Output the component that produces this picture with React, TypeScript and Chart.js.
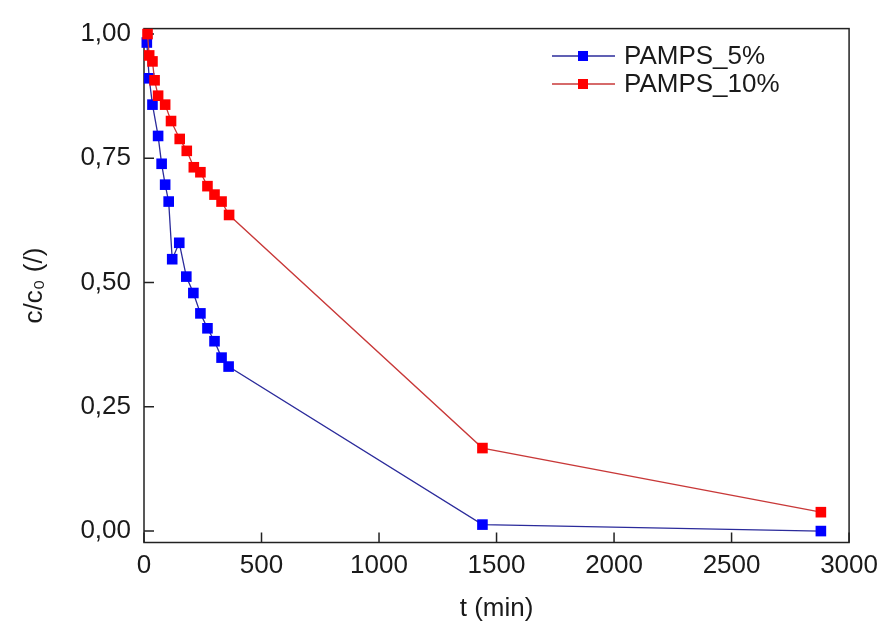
import React, { useEffect, useRef } from 'react';
import { Chart, registerables } from 'chart.js';

Chart.register(...registerables);

// ---- data ----
const seriesNames = ['PAMPS_5%', 'PAMPS_10%'];

const timesPamps5 = [12, 22, 36, 60, 75, 90, 105, 120, 150, 180, 210, 240, 270, 300, 330, 360, 1440, 2880];
const valuesPamps5 = [0.983, 0.911, 0.858, 0.795, 0.739, 0.697, 0.663, 0.547, 0.58, 0.512, 0.479, 0.438, 0.408, 0.382, 0.349, 0.331, 0.013, 0.0];

const timesPamps10 = [15, 22, 36, 45, 60, 90, 115, 152, 182, 212, 240, 270, 300, 330, 362, 1440, 2880];
const valuesPamps10 = [1.0, 0.957, 0.945, 0.907, 0.876, 0.858, 0.825, 0.789, 0.765, 0.732, 0.722, 0.694, 0.677, 0.663, 0.636, 0.167, 0.038];

const xTickLabels = ['0', '500', '1000', '1500', '2000', '2500', '3000'];
const yTickLabels = ['0,00', '0,25', '0,50', '0,75', '1,00'];

const FONT = '"Liberation Sans", Arial, sans-serif';

const framePlugin = {
  id: 'frame',
  beforeDatasetsDraw(chart: any) {
    const { ctx, chartArea, scales } = chart;
    const { left, right, top, bottom } = chartArea;
    ctx.save();
    ctx.strokeStyle = '#222';
    ctx.lineWidth = 1.5;
    ctx.strokeRect(left, top, right - left, bottom - top);
    ctx.beginPath();
    scales.x.ticks.forEach((t: any) => {
      const px = scales.x.getPixelForValue(t.value);
      ctx.moveTo(px, bottom);
      ctx.lineTo(px, bottom - 10);
    });
    scales.y.ticks.forEach((t: any) => {
      const py = scales.y.getPixelForValue(t.value);
      ctx.moveTo(left, py);
      ctx.lineTo(left + 10, py);
    });
    ctx.stroke();
    ctx.restore();
  },
};

const legendPlugin = {
  id: 'customLegend',
  afterDraw(chart: any) {
    const { ctx } = chart;
    const rowsY = [56, 84];
    ctx.save();
    chart.data.datasets.forEach((ds: any, i: number) => {
      const y = rowsY[i];
      ctx.strokeStyle = ds.borderColor;
      ctx.lineWidth = 1.5;
      ctx.beginPath();
      ctx.moveTo(552, y);
      ctx.lineTo(615, y);
      ctx.stroke();
      ctx.fillStyle = ds.pointBackgroundColor;
      ctx.fillRect(583 - 5, y - 5, 10, 10);
      ctx.fillStyle = '#1a1a1a';
      ctx.font = `26px ${FONT}`;
      ctx.textAlign = 'left';
      ctx.textBaseline = 'middle';
      ctx.fillText(ds.label, 624, y + 1);
    });
    ctx.restore();
  },
};

export default function App() {
  const canvasRef = useRef<HTMLCanvasElement | null>(null);

  useEffect(() => {
    const canvas = canvasRef.current;
    if (!canvas) return;
    const chart = new Chart(canvas, {
      type: 'scatter',
      data: {
        datasets: [
          {
            label: seriesNames[0],
            data: timesPamps5.map((t, i) => ({ x: t, y: valuesPamps5[i] })),
            showLine: true,
            order: 2,
            borderColor: '#2b2b9b',
            borderWidth: 1.3,
            pointStyle: 'rect',
            pointRadius: 7.5,
            pointBackgroundColor: '#0000ff',
            pointBorderColor: '#0000ff',
            pointBorderWidth: 0,
            clip: false,
          } as any,
          {
            label: seriesNames[1],
            data: timesPamps10.map((t, i) => ({ x: t, y: valuesPamps10[i] })),
            showLine: true,
            order: 1,
            borderColor: '#c83838',
            borderWidth: 1.3,
            pointStyle: 'rect',
            pointRadius: 7.5,
            pointBackgroundColor: '#ff0000',
            pointBorderColor: '#ff0000',
            pointBorderWidth: 0,
            clip: false,
          } as any,
        ],
      },
      options: {
        animation: false,
        responsive: false,
        devicePixelRatio: 1,
        layout: { padding: { top: 21, right: 33, bottom: 0, left: 0 } },
        plugins: {
          legend: { display: false },
          tooltip: { enabled: false },
        },
        scales: {
          x: {
            type: 'linear',
            min: 0,
            max: 3000,
            grid: { display: false, drawTicks: false },
            border: { display: false },
            ticks: {
              stepSize: 500,
              includeBounds: false,
              padding: 8,
              color: '#1a1a1a',
              font: { family: FONT, size: 26 },
              callback: (_v: any, i: number) => xTickLabels[i],
            },
            title: {
              display: true,
              text: 't (min)',
              color: '#1a1a1a',
              font: { family: FONT, size: 26 },
              padding: { top: 0, bottom: 3 },
            },
            afterFit: (s: any) => {
              s.height = 84.5;
            },
          },
          y: {
            type: 'linear',
            min: -0.023,
            max: 1.011,
            grid: { display: false, drawTicks: false },
            border: { display: false },
            ticks: {
              stepSize: 0.25,
              includeBounds: false,
              padding: 13,
              color: '#1a1a1a',
              font: { family: FONT, size: 26 },
              callback: (_v: any, i: number) => yTickLabels[i],
            },
            title: {
              display: true,
              text: 'c/c\u2080 (/)',
              color: '#1a1a1a',
              font: { family: FONT, size: 26 },
              padding: { top: 19, bottom: 0 },
            },
            afterFit: (s: any) => {
              s.width = 144;
            },
          },
        },
      },
      plugins: [framePlugin, legendPlugin],
    });
    return () => chart.destroy();
  }, []);

  return (
    <div style={{ position: 'absolute', left: 0, top: 0, width: 886, height: 627, background: '#fff' }}>
      <canvas ref={canvasRef} width={886} height={627} style={{ display: 'block' }} />
    </div>
  );
}
